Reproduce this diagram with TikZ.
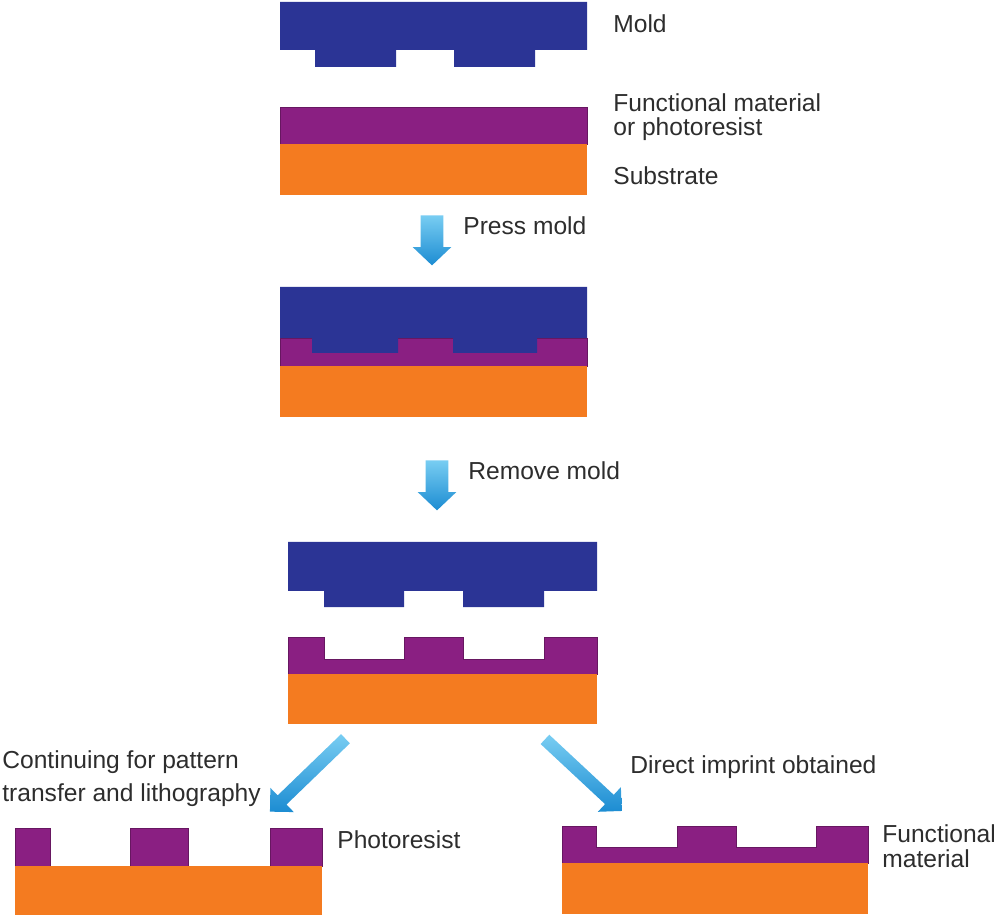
\documentclass[tikz,border=0pt]{standalone}
\usepackage{fontspec}
\setmainfont{Liberation Sans}
\usepackage{xcolor}
\definecolor{Mold-blue}{RGB}{43, 52, 149}
\definecolor{Resist-purple}{RGB}{138, 31, 130}
\definecolor{Substrate-orange}{RGB}{244, 123, 32}
\definecolor{Arrow-light}{RGB}{120, 205, 242}
\definecolor{Arrow-dark}{RGB}{28, 140, 210}
\definecolor{Label-grey}{RGB}{45, 45, 45}
\usetikzlibrary{shapes.arrows,positioning}

\begin{document}
\begin{tikzpicture} [ % styles for layers, arrows and labels
            x=0.02cm, y=-0.02cm, font=\fontsize{14}{13.7}\selectfont,
            mold/.style = {fill=Mold-blue},
            resist/.style = {fill=Resist-purple, draw=Resist-purple!75!black, line width=0.3pt},
            substrate/.style = {fill=Substrate-orange},
            downarrow/.style = {single arrow, inner xsep=0pt, inner ysep=0.22cm, minimum height=1cm,
                single arrow head extend=0.16cm, single arrow tip angle=93, rotate=-90,
                top color=Arrow-light, bottom color=Arrow-dark},
            slantarrow/.style = {single arrow, inner xsep=0pt, inner ysep=0.12cm, minimum height=2.1cm,
                single arrow head extend=0.21cm, single arrow tip angle=90,
                top color=Arrow-light, bottom color=Arrow-dark},
            lbl/.style = {anchor=base west, inner sep=0pt, text=Label-grey, align=left}
        ]

        \useasboundingbox (0,0) rectangle (994,918);

        % 1: mold above the coated substrate
        \fill [mold] (280,2) -- (587,2) -- (587,50) -- (535,50) -- (535,67) -- (454,67) -- (454,50)
            -- (396,50) -- (396,67) -- (315,67) -- (315,50) -- (280,50) -- cycle;
        \fill [resist] (280,107) rectangle (587,144);
        \fill [substrate] (280,144) rectangle (587,195);

        \node [lbl] (lmold) at (613,33) {Mold};
        \node [lbl] (lfunc) at (613,136) {Functional material\\or photoresist};
        \node [lbl] (lsub) at (613,185) {Substrate};

        \node [downarrow] (press) at (432,235) {};
        \node [lbl] (lpress) at (463,235) {Press mold};

        % 2: mold pressed into the layer
        \fill [resist] (280,338) rectangle (587,366);
        \fill [mold] (280,287) -- (587,287) -- (587,338) -- (537,338) -- (537,353) -- (453,353) -- (453,338)
            -- (398,338) -- (398,353) -- (312,353) -- (312,338) -- (280,338) -- cycle;
        \fill [substrate] (280,366) rectangle (587,417);

        \node [downarrow] (remove) at (437,480) {};
        \node [lbl] (lremove) at (468,480) {Remove mold};

        % 3: mold lifted off
        \fill [mold] (288,542) -- (597,542) -- (597,591) -- (544,591) -- (544,607) -- (463,607) -- (463,591)
            -- (404,591) -- (404,607) -- (324,607) -- (324,591) -- (288,591) -- cycle;
        \filldraw [resist] (288,637) -- (324,637) -- (324,659) -- (404,659) -- (404,637) -- (463,637) -- (463,659)
            -- (544,659) -- (544,637) -- (597,637) -- (597,674) -- (288,674) -- cycle;
        \fill [substrate] (288,674) rectangle (597,724);

        % two ways on
        \node [slantarrow, rotate=224] (litho) at (310,773) {};
        \node [slantarrow, rotate=-43] (direct) at (581,773) {};
        \node [lbl] (llitho) at (2,801) {Continuing for pattern\\[5pt]transfer and lithography};
        \node [lbl] (ldirect) at (630,773) {Direct imprint obtained};

        % 4a: photoresist pattern
        \filldraw [resist] (15,828) rectangle (50,866);
        \filldraw [resist] (130,828) rectangle (188,866);
        \filldraw [resist] (270,828) rectangle (322,866);
        \fill [substrate] (15,866) rectangle (322,915);
        \node [lbl] (lphoto) at (337,848) {Photoresist};

        % 4b: imprinted functional layer
        \filldraw [resist] (562,826) -- (596,826) -- (596,847) -- (677,847) -- (677,826) -- (736,826) -- (736,847)
            -- (816,847) -- (816,826) -- (868,826) -- (868,863) -- (562,863) -- cycle;
        \fill [substrate] (562,863) rectangle (868,914);
        \node [lbl] (lfmat) at (882,867) {Functional\\material};

    \end{tikzpicture}
\end{document}
